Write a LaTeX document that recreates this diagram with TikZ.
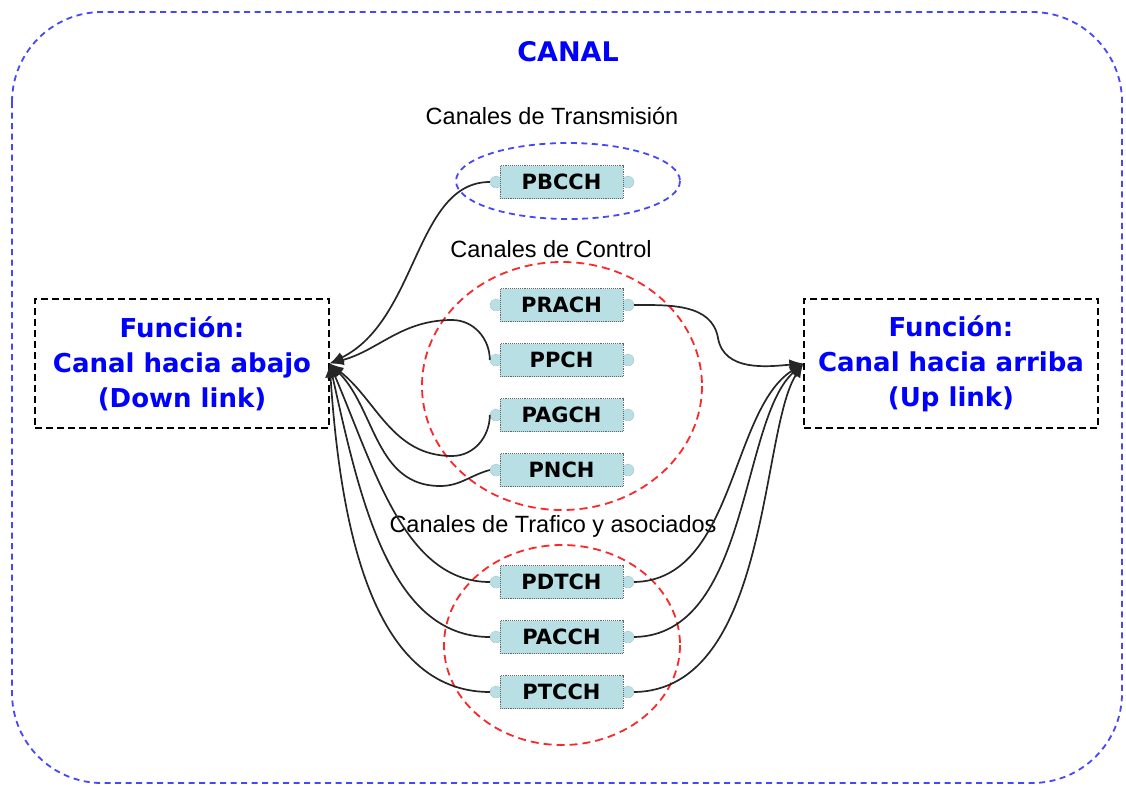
\documentclass[tikz,border=0pt]{standalone}
\usepackage{fontspec}
\setmainfont{DejaVu Sans}
\newfontfamily\labfont{Liberation Sans}
\usetikzlibrary{arrows.meta}
\definecolor{canalblue}{RGB}{70,70,250}
\definecolor{grpred}{RGB}{250,40,40}
\definecolor{chfill}{RGB}{184,224,228}
\definecolor{txtblue}{RGB}{0,0,255}
\begin{document}
\begin{tikzpicture}[x=1pt,y=-1pt,
  chan/.style={draw=gray!80!black, densely dotted, line width=0.9pt, fill=chfill, minimum width=123pt,
    minimum height=33pt, inner sep=0pt, font=\fontsize{21}{24}\selectfont\bfseries},
  port/.style={circle, draw=gray, densely dotted, fill=chfill, minimum size=12pt, inner sep=0pt},
  func/.style={draw, dash pattern=on 7pt off 4pt, line width=1.3pt, minimum width=294pt,
    minimum height=129pt, align=center, text=txtblue,
    font=\fontsize{26}{35}\selectfont\bfseries},
  grplabel/.style={font=\labfont\fontsize{23.5}{26}\selectfont},
  bluedash/.style={draw=canalblue, line width=1.8pt, dash pattern=on 6pt off 4.5pt},
  reddash/.style={draw=grpred, line width=1.8pt, dash pattern=on 8pt off 5pt},
  wire/.style={draw=black!85, line width=1.7pt, -{Latex[length=14pt,width=11pt]}}
]
\useasboundingbox (0,0) rectangle (1126,787);

% outer channel frame and title
\draw[bluedash, rounded corners=90pt] (12,12) rectangle (1122,783);
\node[text=txtblue, font=\fontsize{27}{30}\selectfont\bfseries] (title) at (568,52) {CANAL};

% channel groups
\node[grplabel] (lbltx) at (552,116) {Canales de Transmisión};
\draw[bluedash] (568,181) ellipse [x radius=112, y radius=38];
\node[grplabel] (lblctl) at (551,249) {Canales de Control};
\draw[reddash] (562,386) ellipse [x radius=140, y radius=124];
\node[grplabel] (lbltr) at (553,526) {Canales de Trafico y asociados};
\draw[reddash] (562,645) ellipse [x radius=118, y radius=100];

% logical channels with their two ports
\foreach \n/\t/\y in {pbcch/PBCCH/182, prach/PRACH/305, ppch/PPCH/360, pagch/PAGCH/415,
    pnch/PNCH/470, pdtch/PDTCH/582, pacch/PACCH/637, ptcch/PTCCH/692} {
  \node[port] (\n-l) at (496,\y) {};
  \node[port] (\n-r) at (628,\y) {};
  \node[chan] (\n) at (561.5,\y) {\t};
}

% link functions
\node[func] (down) at (182,363.5) {Función:\\Canal hacia abajo\\(Down link)};
\node[func] (up) at (951,363.5) {Función:\\Canal hacia arriba\\(Up link)};

% downlink connectors
\draw[wire] (pbcch-l.west) .. controls (415,182) and (418,320) .. (down.east);
\draw[wire] (ppch-l.west) to[out=90,in=0] (452,320) to[out=180,in=15] (down.east);
\draw[wire] (pagch-l.west) to[out=-90,in=0] (452,456) to[out=180,in=-38] (down.east);
\draw[wire] (pnch-l.west) to[out=195,in=0] (440,486) to[out=180,in=-45] (down.east);
\draw[wire] (pdtch-l.west) .. controls (405,582) and (375,470) .. (down.east);
\draw[wire] (pacch-l.west) .. controls (390,637) and (360,500) .. (down.east);
\draw[wire] (ptcch-l.west) .. controls (370,692) and (340,520) .. (down.east);

% uplink connectors
\draw[wire] (prach-r.east) to[out=0,in=100] (718,338) to[out=-80,in=185] (up.west);
\draw[wire] (pdtch-r.east) .. controls (735,580) and (730,410) .. (up.west);
\draw[wire] (pacch-r.east) .. controls (750,635) and (740,420) .. (up.west);
\draw[wire] (ptcch-r.east) .. controls (770,690) and (760,430) .. (up.west);
\end{tikzpicture}
\end{document}
